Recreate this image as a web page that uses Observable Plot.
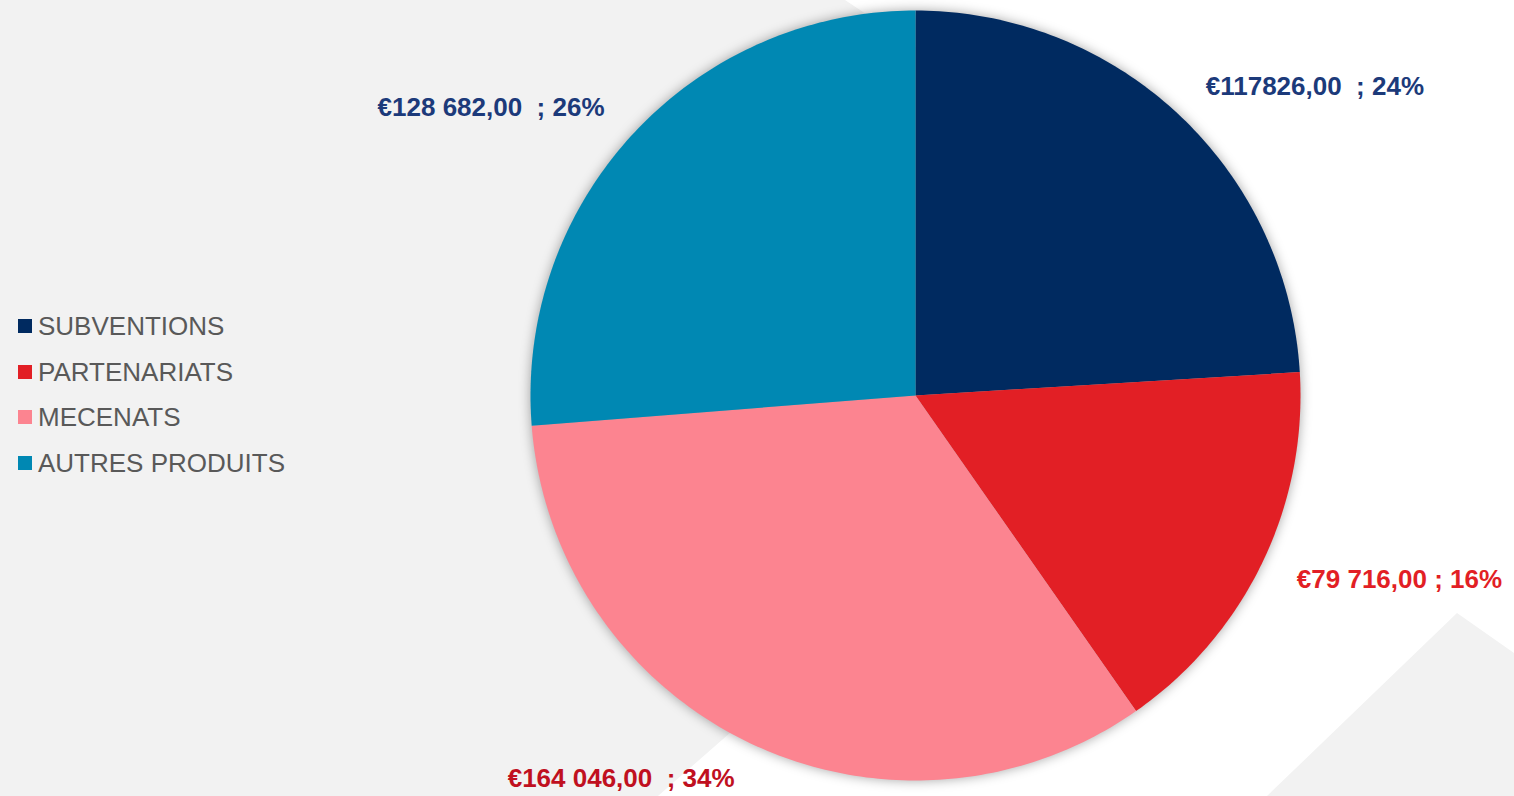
<!DOCTYPE html>
<html>
<head>
<meta charset="utf-8">
<script src="https://cdn.jsdelivr.net/npm/d3@7"></script>
<script src="https://cdn.jsdelivr.net/npm/@observablehq/plot@0.6"></script>
<style>
  html, body { margin: 0; padding: 0; background: #f2f2f2; }
  #wrap { position: relative; width: 1514px; height: 796px; overflow: hidden; background: #f2f2f2; font-family: "Liberation Sans", Arial, sans-serif; }
  #bgwhite { position: absolute; left: 0; top: 0; width: 1514px; height: 796px; background: #ffffff;
    clip-path: polygon(845px 0px, 1514px 0px, 1514px 653px, 1457px 613px, 1267px 796px, 658px 796px, 1255px 273px); }
  #chart { position: absolute; left: 0; top: 0; }
  #legend { position: absolute; left: 18px; top: 0; }
  .item { position: absolute; left: 0; white-space: nowrap; display: flex; align-items: center; color: #595959; font-size: 26px; line-height: 30px; }
  .sw { width: 14px; height: 14px; margin-right: 6px; flex: none; }
</style>
</head>
<body>
<div id="wrap">
  <div id="bgwhite"></div>
  <div id="chart"></div>
  <div id="legend"></div>
</div>
<script>
// ---- data ----
const categories = ["SUBVENTIONS", "PARTENARIATS", "MECENATS", "AUTRES PRODUITS"];
const values = [117826, 79716, 164046, 128682];
const labelTexts = ["€117826,00  ; 24%", "€79 716,00 ; 16%", "€164 046,00  ; 34%", "€128 682,00  ; 26%"];
const sliceColors = ["#002a60", "#e21f25", "#fc8490", "#0088b3"];
const labelColors = ["#1c3a7a", "#e21f25", "#c0101f", "#1c3a7a"];

// ---- geometry from d3.pie (starting at 12 o'clock, clockwise) ----
const arcs = d3.pie().sort(null)(values);
const pts = [];
arcs.forEach((a, i) => {
  const cat = categories[i];
  pts.push({cat, x: 0, y: 0});
  const n = Math.max(2, Math.ceil((a.endAngle - a.startAngle) / (Math.PI * 2) * 400));
  for (let k = 0; k <= n; k++) {
    const t = a.startAngle + (a.endAngle - a.startAngle) * k / n;
    pts.push({cat, x: Math.sin(t), y: Math.cos(t)});
  }
  pts.push({cat, x: 0, y: 0});
});
const labelR = 1.10;
const labels = arcs.map((a, i) => {
  const m = (a.startAngle + a.endAngle) / 2;
  return {cat: categories[i], text: labelTexts[i], color: labelColors[i], x: Math.sin(m) * labelR, y: Math.cos(m) * labelR, right: Math.sin(m) >= 0};
});

const chart = Plot.plot({
  width: 1514,
  height: 796,
  marginLeft: 530,
  marginRight: 214,
  marginTop: 10,
  marginBottom: 16,
  style: {background: "transparent", fontFamily: "'Liberation Sans', Arial, sans-serif", overflow: "visible"},
  x: {domain: [-1, 1], axis: null},
  y: {domain: [-1, 1], axis: null},
  color: {domain: categories, range: sliceColors},
  marks: [
    Plot.line(pts, {x: "x", y: "y", z: "cat", fill: "cat", stroke: "none"}),
    Plot.text(labels.filter(d => d.right), {x: "x", y: "y", text: "text", fill: "color", textAnchor: "start", fontSize: 26, fontWeight: "bold"}),
    Plot.text(labels.filter(d => !d.right), {x: "x", y: "y", text: "text", fill: "color", textAnchor: "end", fontSize: 26, fontWeight: "bold"})
  ]
});
const lineG = chart.querySelector('g[aria-label="line"]');
if (lineG) lineG.style.filter = "drop-shadow(0px 0px 6px rgba(0,0,0,0.35))";
document.getElementById("chart").appendChild(chart);

// ---- legend ----
const legend = document.getElementById("legend");
const rowTops = 326 - 15;
categories.forEach((c, i) => {
  const it = document.createElement("div");
  it.className = "item";
  it.style.top = (rowTops + i * 45.5) + "px";
  const sw = document.createElement("span");
  sw.className = "sw";
  sw.style.background = sliceColors[i];
  const tx = document.createElement("span");
  tx.textContent = c;
  it.appendChild(sw); it.appendChild(tx);
  legend.appendChild(it);
});
</script>
</body>
</html>
